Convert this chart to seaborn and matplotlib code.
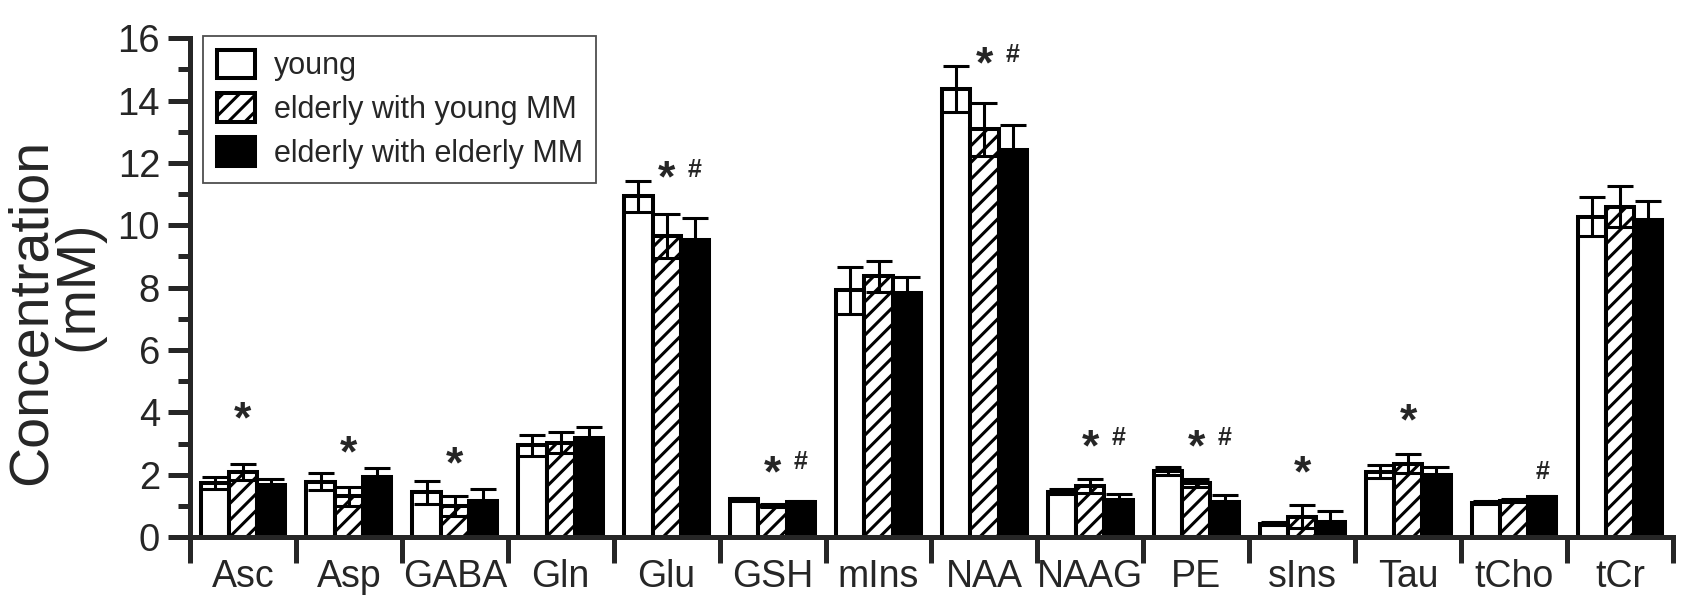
import numpy as np
import pandas as pd
import seaborn as sns
import matplotlib.pyplot as plt
from matplotlib.ticker import MultipleLocator, FixedLocator

metabolites = ['Asc', 'Asp', 'GABA', 'Gln', 'Glu', 'GSH', 'mIns', 'NAA',
               'NAAG', 'PE', 'sIns', 'Tau', 'tCho', 'tCr']
groups = ['young', 'elderly with young MM', 'elderly with elderly MM']

young = [1.74, 1.78, 1.44, 2.94, 10.93, 1.21, 7.91, 14.36, 1.45, 2.12, 0.42, 2.10, 1.10, 10.28]
young_sd = [0.20, 0.27, 0.37, 0.34, 0.50, 0.05, 0.74, 0.74, 0.08, 0.13, 0.05, 0.20, 0.04, 0.62]
eld_ymm = [2.09, 1.30, 1.00, 3.03, 9.65, 1.00, 8.37, 13.08, 1.64, 1.72, 0.65, 2.35, 1.17, 10.60]
eld_ymm_sd = [0.25, 0.30, 0.32, 0.34, 0.71, 0.05, 0.50, 0.84, 0.23, 0.13, 0.37, 0.31, 0.04, 0.65]
eld_emm = [1.66, 1.94, 1.16, 3.18, 9.53, 1.12, 7.83, 12.42, 1.18, 1.12, 0.49, 1.99, 1.29, 10.18]
eld_emm_sd = [0.21, 0.28, 0.37, 0.34, 0.72, 0.04, 0.51, 0.81, 0.19, 0.23, 0.34, 0.25, 0.04, 0.61]

# significance marks: (metabolite, group index, symbol, y)
marks = [('Asc', 1, '*', 3.73), ('Asp', 1, '*', 2.63), ('GABA', 1, '*', 2.29),
         ('Glu', 1, '*', 11.45), ('Glu', 2, '#', 11.78),
         ('GSH', 1, '*', 1.98), ('GSH', 2, '#', 2.42),
         ('NAA', 1, '*', 15.1), ('NAA', 2, '#', 15.45),
         ('NAAG', 1, '*', 2.84), ('NAAG', 2, '#', 3.18),
         ('PE', 1, '*', 2.84), ('PE', 2, '#', 3.18),
         ('sIns', 1, '*', 2.0), ('Tau', 1, '*', 3.67), ('tCho', 2, '#', 2.08)]

means = [young, eld_ymm, eld_emm]
sds = [young_sd, eld_ymm_sd, eld_emm_sd]
rows = []
for g, m, s in zip(groups, means, sds):
    for met, v, e in zip(metabolites, m, s):
        rows.append({'metabolite': met, 'group': g, 'mean': v, 'sd': e})
df = pd.DataFrame(rows)

sns.set_style('ticks')
plt.rcParams['font.family'] = ['Liberation Sans', 'DejaVu Sans']
plt.rcParams['hatch.linewidth'] = 2.2

fig = plt.figure(figsize=(16.87, 6.11), dpi=100)
ax = fig.add_axes([0.1126, 0.1211, 0.8791, 0.8162])

pal = {groups[0]: 'white', groups[1]: 'white', groups[2]: 'black'}
sns.barplot(data=df, x='metabolite', y='mean', hue='group', hue_order=groups,
            order=metabolites, palette=pal, edgecolor='black', linewidth=2.9,
            errorbar=None, legend=False, saturation=1, ax=ax)

bar_sets = list(ax.containers)
for p in bar_sets[1].patches:
    p.set_hatch('//')

for cont, g in zip(bar_sets, groups):
    sub = df[df['group'] == g].set_index('metabolite').loc[metabolites]
    xs = [p.get_x() + p.get_width() / 2 for p in cont.patches]
    ax.errorbar(xs, sub['mean'].values, yerr=sub['sd'].values, fmt='none',
                ecolor='black', elinewidth=2.2, capsize=9.5, capthick=2.2, zorder=3)

for met, gi, sym, y in marks:
    i = metabolites.index(met)
    p = bar_sets[gi].patches[i]
    x = p.get_x() + p.get_width() / 2
    if sym == '*':
        ax.text(x, y, '*', ha='center', va='center', fontsize=32, fontweight='bold')
    else:
        ax.text(x, y, '#', ha='center', va='center', fontsize=18, fontweight='bold')

ax.set_ylim(0, 16)
ax.set_xlim(-0.5, len(metabolites) - 0.5)
ax.yaxis.set_major_locator(MultipleLocator(2))
ax.yaxis.set_minor_locator(MultipleLocator(1))
ax.xaxis.set_minor_locator(FixedLocator(np.arange(-0.5, len(metabolites), 1.0)))

for s in ['top', 'right']:
    ax.spines[s].set_visible(False)
for s in ['left', 'bottom']:
    ax.spines[s].set_linewidth(3.6)

ax.tick_params(axis='y', which='major', length=15.5, width=3.6, pad=6, labelsize=27.5)
ax.tick_params(axis='y', which='minor', length=9, width=3.6)
ax.tick_params(axis='x', which='major', length=0, pad=16, labelsize=27)
ax.tick_params(axis='x', which='minor', length=19, width=3.6)

ax.set_xlabel('')
ax.set_ylabel('')
# second line sits a bit higher than the first in the original
fig.text(57 / 1687, 1 - 312 / 611, 'Concentration\n   (mM)', rotation=90,
         ha='center', va='center', multialignment='center',
         fontsize=40, linespacing=0.97)

handles = [c.patches[0] for c in bar_sets]
leg = ax.legend(handles, groups, loc='upper left', bbox_to_anchor=(0.009, 1.005),
                borderaxespad=0, fontsize=22, frameon=True, fancybox=False,
                handlelength=1.25, handleheight=1.05, labelspacing=0.4,
                handletextpad=0.6, borderpad=0.45)
leg.get_frame().set_edgecolor('#222222')
leg.get_frame().set_linewidth(1.3)

fig.savefig('out.png', dpi=100)
